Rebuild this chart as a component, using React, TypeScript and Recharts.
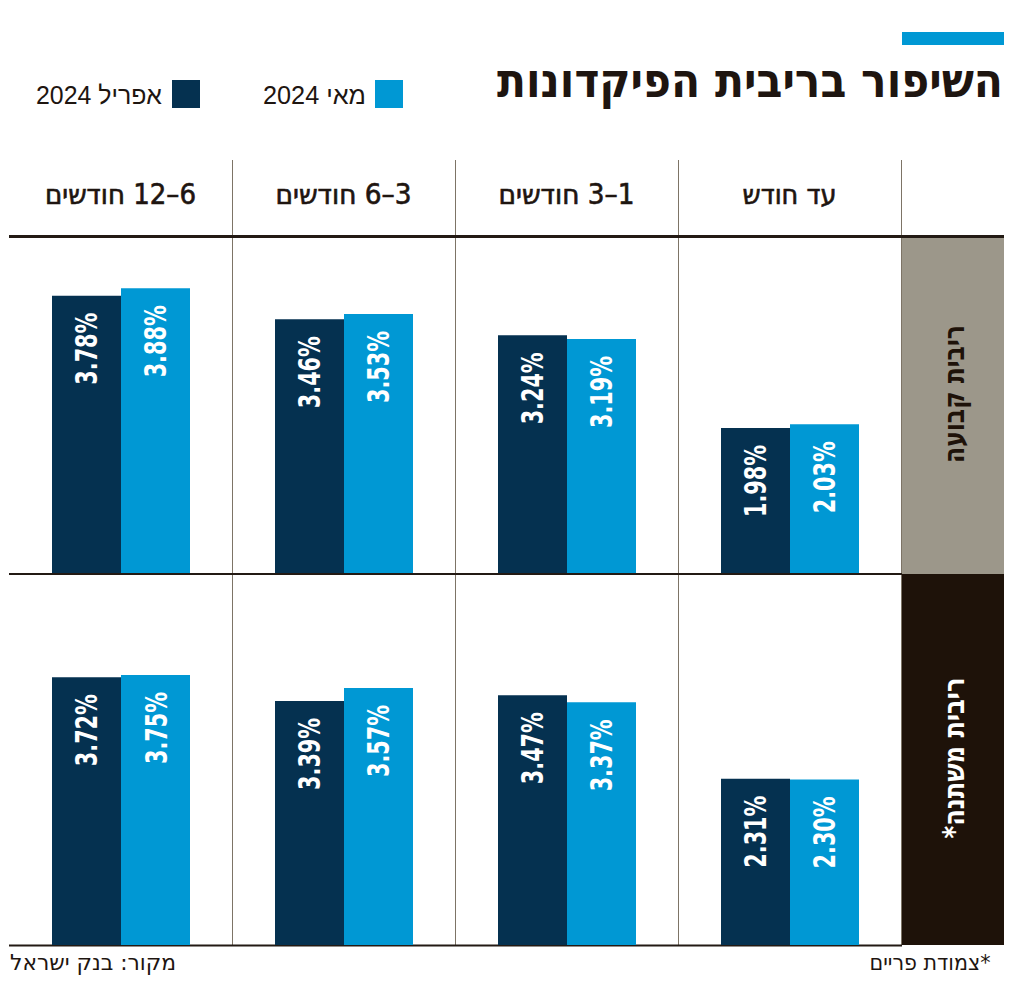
import React from "react";
import { BarChart, Bar, XAxis, YAxis, LabelList } from "recharts";

// columns left to right (the page reads right to left)
const categories = ["6–12 חודשים", "3–6 חודשים", "1–3 חודשים", "עד חודש"];
const fixedApril = [3.78, 3.46, 3.24, 1.98];
const fixedMay = [3.88, 3.53, 3.19, 2.03];
const variableApril = [3.72, 3.39, 3.47, 2.31];
const variableMay = [3.75, 3.57, 3.37, 2.3];
const rowLabels = ["ריבית קבועה", "ריבית משתנה*"];
const seriesNames = ["אפריל 2024", "מאי 2024"];

const APRIL = "#053150";
const MAY = "#0098d4";
const LINE = "#231a14";
const GRID = "#7d7466";
const COND = "'DejaVu Sans Condensed', 'DejaVu Sans', sans-serif";
const PLAIN = "'Liberation Sans', 'DejaVu Sans', sans-serif";

function buildRows(april: number[], may: number[]) {
  return categories.map((cat, i) => ({ cat, april: april[i], may: may[i] }));
}

const valueLabel = (props: any) => {
  const { x, y, width, value } = props;
  const cx = x + width / 2;
  const cy = y + 17;
  return (
    <text
      x={cx}
      y={cy}
      transform={`rotate(-90, ${cx}, ${cy})`}
      textAnchor="end"
      dominantBaseline="central"
      fill="#fff"
      fontFamily={COND}
      fontWeight="bold"
      fontSize={31}
      textLength={72}
      lengthAdjust="spacingAndGlyphs"
    >
      {`${Number(value).toFixed(2)}%`}
    </text>
  );
};

function Row({ data, top, height }: { data: any[]; top: number; height: number }) {
  return (
    <div style={{ position: "absolute", left: 9, top }}>
      <BarChart width={892} height={height} data={data} margin={{ top: 0, right: 0, bottom: 0, left: 0 }} barGap={0}>
        <XAxis dataKey="cat" hide />
        <YAxis domain={[0, 5]} hide />
        <Bar dataKey="april" fill={APRIL} barSize={69} isAnimationActive={false}>
          <LabelList dataKey="april" content={valueLabel} />
        </Bar>
        <Bar dataKey="may" fill={MAY} barSize={69} isAnimationActive={false}>
          <LabelList dataKey="may" content={valueLabel} />
        </Bar>
      </BarChart>
    </div>
  );
}

export default function App() {
  const colCenters = [120.5, 343.5, 566.5, 789.5];
  const headerWidths = [151, 136, 136, 94];
  return (
    <div style={{ position: "absolute", left: 0, top: 0, width: 1024, height: 984, background: "#fff", overflow: "hidden" }}>
      <svg width={1024} height={984} style={{ position: "absolute", left: 0, top: 0 }}>
        <rect x={902} y={32} width={102} height={13} fill={MAY} />
        <text x={750} y={97} textAnchor="middle" direction="rtl" style={{ direction: "rtl" }}
          fontFamily={COND} fontWeight="bold" fontSize={48} fill="#1e1510"
          textLength={506} lengthAdjust="spacingAndGlyphs">
          השיפור בריבית הפיקדונות
        </text>

        {/* legend */}
        <rect x={375} y={80} width={28} height={28} fill={MAY} />
        <text x={314.5} y={104} textAnchor="middle" style={{ direction: "rtl" }} fontFamily={PLAIN}
          fontSize={25} fill="#1e1510" textLength={103} lengthAdjust="spacingAndGlyphs">{seriesNames[1]}</text>
        <rect x={172} y={80} width={28} height={28} fill={APRIL} />
        <text x={99} y={104} textAnchor="middle" style={{ direction: "rtl" }} fontFamily={PLAIN}
          fontSize={25} fill="#1e1510" textLength={126} lengthAdjust="spacingAndGlyphs">{seriesNames[0]}</text>

        {/* column headers */}
        {categories.map((c, i) => (
          <text key={c} x={colCenters[i]} y={204} textAnchor="middle" style={{ direction: "rtl" }}
            fontFamily={COND} fontSize={28} fill="#1e1510" stroke="#1e1510" strokeWidth={0.6}
            textLength={headerWidths[i]} lengthAdjust="spacingAndGlyphs">{c}</text>
        ))}

        {/* row label column */}
        <rect x={902} y={238} width={102} height={336} fill="#9c978a" />
        <rect x={902} y={574} width={102} height={371} fill="#1e1209" />
        <text x={953} y={394} transform="rotate(-90, 953, 394)" textAnchor="middle" dominantBaseline="central"
          style={{ direction: "rtl" }} fontFamily={COND} fontWeight="bold" fontSize={30} fill="#1e1209"
          textLength={138} lengthAdjust="spacingAndGlyphs">{rowLabels[0]}</text>
        <text x={953} y={758} transform="rotate(-90, 953, 758)" textAnchor="middle" dominantBaseline="central"
          style={{ direction: "rtl" }} fontFamily={COND} fontWeight="bold" fontSize={30} fill="#fff"
          textLength={161} lengthAdjust="spacingAndGlyphs">{rowLabels[1]}</text>

        {/* grid */}
        {[232, 455, 678, 901].map((x) => (
          <line key={x} x1={x + 0.5} x2={x + 0.5} y1={160} y2={945} stroke={GRID} strokeWidth={1} />
        ))}
        <line x1={9} x2={1004} y1={236.5} y2={236.5} stroke={LINE} strokeWidth={3} />
        <line x1={9} x2={902} y1={574} y2={574} stroke={LINE} strokeWidth={2} />
        <line x1={9} x2={902} y1={945.5} y2={945.5} stroke={LINE} strokeWidth={2} />

        {/* footer */}
        <text x={930} y={970} textAnchor="middle" style={{ direction: "rtl" }} fontFamily={COND}
          fontSize={22} fill="#1e1510" textLength={121} lengthAdjust="spacingAndGlyphs">*צמודת פריים</text>
        <text x={93} y={970} textAnchor="middle" style={{ direction: "rtl" }} fontFamily={COND}
          fontSize={22} fill="#1e1510" textLength={166} lengthAdjust="spacingAndGlyphs">מקור: בנק ישראל</text>
      </svg>
      <Row data={buildRows(fixedApril, fixedMay)} top={205.5} height={367.5} />
      <Row data={buildRows(variableApril, variableMay)} top={585} height={360} />
    </div>
  );
}
